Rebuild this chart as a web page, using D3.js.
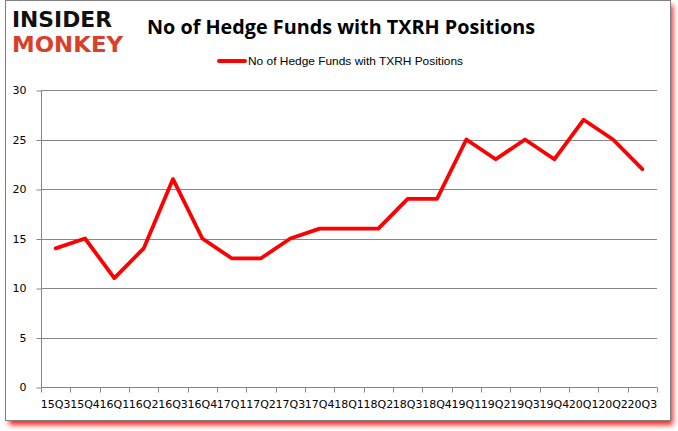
<!DOCTYPE html>
<html><head><meta charset="utf-8">
<script src="https://cdn.jsdelivr.net/npm/d3@7"></script>
<style>body{margin:0;background:#fff;}svg{display:block;}</style>
</head><body>
<script>
const categories = ["15Q3","15Q4","16Q1","16Q2","16Q3","16Q4","17Q1","17Q2","17Q3","17Q4","18Q1","18Q2","18Q3","18Q4","19Q1","19Q2","19Q3","19Q4","20Q1","20Q2","20Q3"];
const values = [14,15,11,14,21,15,13,13,15,16,16,16,19,19,25,23,25,23,27,25,22];
const yTicks = [0,5,10,15,20,25,30];
const seriesName = "No of Hedge Funds with TXRH Positions";
const title = "No of Hedge Funds with TXRH Positions";

const W = 678, H = 431;
const svg = d3.select("body").append("svg").attr("width", W).attr("height", H);
const defs = svg.append("defs");
const f = defs.append("filter").attr("id","sh").attr("x","-5%").attr("y","-5%").attr("width","115%").attr("height","115%");
f.append("feGaussianBlur").attr("stdDeviation", 2.5);

// shadow + frame
svg.append("rect").attr("x", 9).attr("y", 5).attr("width", 664).attr("height", 420)
  .attr("fill", "#ff1010").attr("opacity", 0.9).attr("filter", "url(#sh)");
svg.append("rect").attr("x", 5.5).attr("y", 0.5).attr("width", 665).attr("height", 420)
  .attr("fill", "#fff").attr("stroke", "#808080").attr("stroke-width", 1);

const m = {l: 41, r: 657, t: 90, b: 387};
const x = d3.scaleBand().domain(categories).range([m.l, m.r]);
const y = d3.scaleLinear().domain([0, 30]).range([m.b, m.t]);

// gridlines
svg.append("g").selectAll("line").data(yTicks).join("line")
  .attr("x1", m.l).attr("x2", m.r)
  .attr("y1", d => Math.round(y(d)) + 0.5).attr("y2", d => Math.round(y(d)) + 0.5)
  .attr("stroke", "#868686").attr("stroke-width", 1);

// y axis
const ya = svg.append("g").attr("transform", `translate(${m.l + 0.5},0)`)
  .call(d3.axisLeft(y).tickValues(yTicks).tickSize(5).tickPadding(10));
ya.select(".domain").attr("stroke", "#868686").attr("d", `M0,${m.t}V${m.b + 0.5}`);
ya.selectAll(".tick line").attr("stroke", "#868686").attr("transform", "translate(0,0.5)");
ya.selectAll(".tick text").attr("font-family", "DejaVu Sans, Verdana, sans-serif").attr("font-size", 11).attr("fill", "#000");

// x axis
const xa = svg.append("g").attr("transform", `translate(0,${Math.round(m.b) + 0.5})`)
  .call(d3.axisBottom(x).tickSize(0).tickPadding(13));
xa.select(".domain").remove();
xa.selectAll(".tick text").attr("font-family", "DejaVu Sans, Verdana, sans-serif").attr("font-size", 11).attr("fill", "#000");
const bounds = categories.map(c => x(c)).concat([x(categories[categories.length - 1]) + x.bandwidth()]);
xa.append("path").attr("d", `M${m.l},0H${m.r}`).attr("stroke", "#868686").attr("fill", "none");
xa.selectAll(".bt").data(bounds).join("line").attr("class", "bt")
  .attr("x1", d => Math.round(d) + 0.5).attr("x2", d => Math.round(d) + 0.5)
  .attr("y1", 0).attr("y2", 5).attr("stroke", "#868686");

// line
const line = d3.line().x((d, i) => x(categories[i]) + x.bandwidth() / 2).y(d => y(d));
svg.append("path").datum(values).attr("d", line)
  .attr("fill", "none").attr("stroke", "#ff0000").attr("stroke-width", 3.8)
  .attr("stroke-linejoin", "round").attr("stroke-linecap", "round");

// title
svg.append("text").attr("x", 341).attr("y", 34).attr("text-anchor", "middle")
  .attr("font-family", "Open Sans, Noto Sans, sans-serif").attr("font-weight", "bold")
  .attr("font-size", 20).attr("textLength", 388).attr("lengthAdjust", "spacingAndGlyphs")
  .attr("fill", "#000").text(title);

// legend
svg.append("line").attr("x1", 219).attr("x2", 245).attr("y1", 61).attr("y2", 61)
  .attr("stroke", "#ff0000").attr("stroke-width", 4).attr("stroke-linecap", "round");
svg.append("text").attr("x", 248).attr("y", 65)
  .attr("font-family", "Liberation Sans, Arial, sans-serif").attr("font-size", 11.5)
  .attr("textLength", 215).attr("lengthAdjust", "spacingAndGlyphs")
  .attr("fill", "#000").text(seriesName);

// logo
svg.append("text").attr("x", 12).attr("y", 27)
  .attr("font-family", "DejaVu Sans, sans-serif").attr("font-weight", "bold").attr("font-size", 21)
  .attr("textLength", 100).attr("lengthAdjust", "spacingAndGlyphs").attr("fill", "#111").text("INSIDER");
svg.append("text").attr("x", 12).attr("y", 52)
  .attr("font-family", "DejaVu Sans, sans-serif").attr("font-weight", "bold").attr("font-size", 21)
  .attr("textLength", 111).attr("lengthAdjust", "spacingAndGlyphs").attr("fill", "#d9402b").text("MONKEY");
</script>
</body></html>
